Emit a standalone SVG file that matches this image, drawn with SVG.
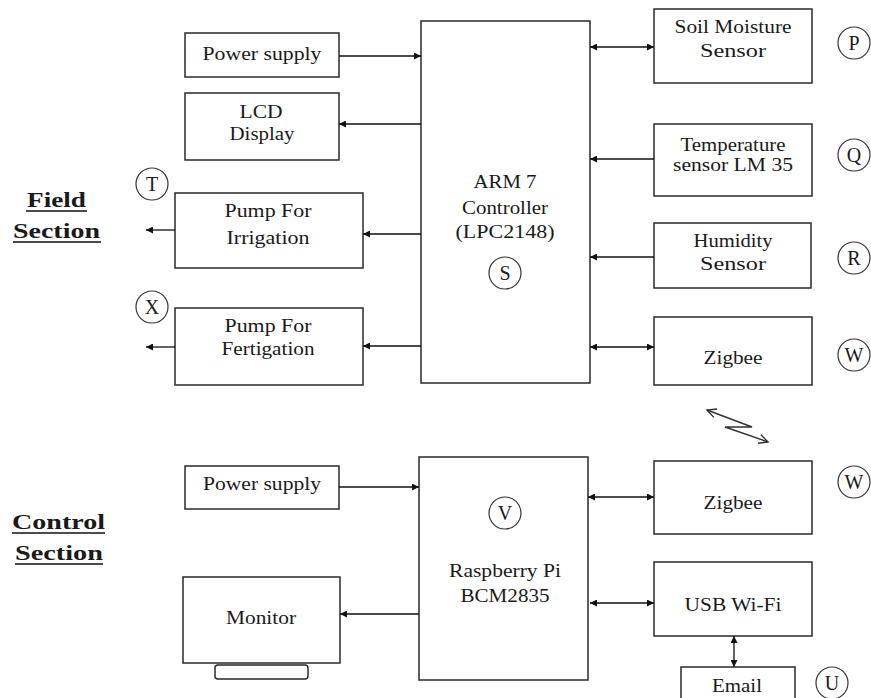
<svg xmlns="http://www.w3.org/2000/svg" width="871" height="698" viewBox="0 0 871 698">
<defs>
<marker id="ah" viewBox="0 0 10 10" refX="10" refY="5" markerWidth="9" markerHeight="7" markerUnits="userSpaceOnUse" orient="auto-start-reverse">
<path d="M0,0 L10,5 L0,10 z" fill="#111"/>
</marker>
<marker id="oa" viewBox="0 0 10 10" refX="9" refY="5" markerWidth="12" markerHeight="10" markerUnits="userSpaceOnUse" orient="auto-start-reverse">
<path d="M0,0.5 L9,5 L0,9.5" fill="none" stroke="#333" stroke-width="1.4"/>
</marker>
</defs>
<style>
.box{fill:#fff;stroke:#2a2a2a;stroke-width:1.5}
.t{font-family:"Liberation Serif","Times New Roman",serif;font-size:19px;fill:#1a1a1a;text-anchor:middle}
.h{font-family:"Liberation Serif","Times New Roman",serif;font-size:22px;font-weight:bold;fill:#1a1a1a}
.c{fill:#fff;stroke:#333;stroke-width:1.2}
.cl{font-family:"Liberation Serif","Times New Roman",serif;font-size:20px;fill:#1a1a1a;text-anchor:middle}
.ln{stroke:#111;stroke-width:1.3;fill:none}
.ul{stroke:#111;stroke-width:1.6}
</style>
<rect width="871" height="698" fill="#fff"/>

<g id="field-label">
<text class="h" x="27" y="207" textLength="59" lengthAdjust="spacingAndGlyphs">Field</text>
<line class="ul" x1="26" y1="211" x2="87" y2="211"/>
<text class="h" x="13" y="238" textLength="87" lengthAdjust="spacingAndGlyphs">Section</text>
<line class="ul" x1="13" y1="242" x2="101" y2="242"/>
</g>
<g id="control-label">
<text class="h" x="12" y="529" textLength="93" lengthAdjust="spacingAndGlyphs">Control</text>
<line class="ul" x1="12" y1="533" x2="105" y2="533"/>
<text class="h" x="15" y="560" textLength="88" lengthAdjust="spacingAndGlyphs">Section</text>
<line class="ul" x1="15" y1="564" x2="103" y2="564"/>
</g>

<g id="power1"><rect class="box" x="185" y="33" width="154" height="44"/>
<text class="t" x="262" y="60" textLength="119" lengthAdjust="spacingAndGlyphs">Power supply</text></g>
<g id="lcd"><rect class="box" x="185" y="93" width="154" height="67"/>
<text class="t" x="261" y="118" textLength="43" lengthAdjust="spacingAndGlyphs">LCD</text>
<text class="t" x="262" y="140" textLength="65" lengthAdjust="spacingAndGlyphs">Display</text></g>
<g id="pump-irr"><rect class="box" x="175" y="193" width="188" height="75"/>
<text class="t" x="268" y="217" textLength="87" lengthAdjust="spacingAndGlyphs">Pump For</text>
<text class="t" x="268" y="244" textLength="83" lengthAdjust="spacingAndGlyphs">Irrigation</text>
<circle class="c" cx="152" cy="184" r="16"/><text class="cl" x="152" y="191">T</text></g>
<g id="pump-fert"><rect class="box" x="175" y="308" width="188" height="77"/>
<text class="t" x="268" y="332" textLength="87" lengthAdjust="spacingAndGlyphs">Pump For</text>
<text class="t" x="268" y="355" textLength="93" lengthAdjust="spacingAndGlyphs">Fertigation</text>
<circle class="c" cx="152" cy="307" r="16"/><text class="cl" x="152" y="314">X</text></g>
<g id="arm"><rect class="box" x="421" y="21" width="169" height="362"/>
<text class="t" x="505" y="188" textLength="63" lengthAdjust="spacingAndGlyphs">ARM 7</text>
<text class="t" x="505" y="214" textLength="86" lengthAdjust="spacingAndGlyphs">Controller</text>
<text class="t" x="505" y="238" textLength="99" lengthAdjust="spacingAndGlyphs">(LPC2148)</text>
<circle class="c" cx="505" cy="273" r="16"/><text class="cl" x="505" y="280">S</text></g>
<g id="soil"><rect class="box" x="654" y="9" width="158" height="74"/>
<text class="t" x="733" y="33" textLength="117" lengthAdjust="spacingAndGlyphs">Soil Moisture</text>
<text class="t" x="733" y="57" textLength="66" lengthAdjust="spacingAndGlyphs">Sensor</text>
<circle class="c" cx="854" cy="43" r="16"/><text class="cl" x="854" y="50">P</text></g>
<g id="temp"><rect class="box" x="654" y="124" width="158" height="72"/>
<text class="t" x="733" y="151" textLength="105" lengthAdjust="spacingAndGlyphs">Temperature</text>
<text class="t" x="733" y="171" textLength="120" lengthAdjust="spacingAndGlyphs">sensor LM 35</text>
<circle class="c" cx="854" cy="155" r="16"/><text class="cl" x="854" y="162">Q</text></g>
<g id="humidity"><rect class="box" x="654" y="223" width="157" height="65"/>
<text class="t" x="733" y="247" textLength="79" lengthAdjust="spacingAndGlyphs">Humidity</text>
<text class="t" x="733" y="270" textLength="66" lengthAdjust="spacingAndGlyphs">Sensor</text>
<circle class="c" cx="854" cy="258" r="16"/><text class="cl" x="854" y="265">R</text></g>
<g id="zigbee1"><rect class="box" x="654" y="317" width="158" height="68"/>
<text class="t" x="733" y="364" textLength="59" lengthAdjust="spacingAndGlyphs">Zigbee</text>
<circle class="c" cx="854" cy="355" r="16"/><text class="cl" x="854" y="362">W</text></g>

<g id="power2"><rect class="box" x="185" y="466" width="154" height="43"/>
<text class="t" x="262" y="490" textLength="118" lengthAdjust="spacingAndGlyphs">Power supply</text></g>
<g id="monitor"><rect class="box" x="183" y="577" width="157" height="86"/>
<text class="t" x="261" y="624" textLength="70" lengthAdjust="spacingAndGlyphs">Monitor</text>
<rect class="box" x="215" y="665" width="93" height="14" rx="3"/></g>
<g id="rpi"><rect class="box" x="419" y="457" width="169" height="223"/>
<circle class="c" cx="505" cy="513" r="16"/><text class="cl" x="505" y="520">V</text>
<text class="t" x="505" y="577" textLength="112" lengthAdjust="spacingAndGlyphs">Raspberry Pi</text>
<text class="t" x="505" y="602" textLength="89" lengthAdjust="spacingAndGlyphs">BCM2835</text></g>
<g id="zigbee2"><rect class="box" x="654" y="461" width="158" height="73"/>
<text class="t" x="733" y="509" textLength="59" lengthAdjust="spacingAndGlyphs">Zigbee</text>
<circle class="c" cx="854" cy="482" r="16"/><text class="cl" x="854" y="489">W</text></g>
<g id="usbwifi"><rect class="box" x="654" y="562" width="158" height="74"/>
<text class="t" x="733" y="611" textLength="97" lengthAdjust="spacingAndGlyphs">USB Wi-Fi</text></g>
<g id="email"><rect class="box" x="681" y="667" width="114" height="40"/>
<text class="t" x="737" y="692" textLength="50" lengthAdjust="spacingAndGlyphs">Email</text>
<circle class="c" cx="832" cy="683" r="16"/><text class="cl" x="832" y="690">U</text></g>

<g id="connectors">
<line class="ln" x1="339" y1="56" x2="421" y2="56" marker-end="url(#ah)"/>
<line class="ln" x1="421" y1="124" x2="339" y2="124" marker-end="url(#ah)"/>
<line class="ln" x1="421" y1="234" x2="363" y2="234" marker-end="url(#ah)"/>
<line class="ln" x1="421" y1="346" x2="363" y2="346" marker-end="url(#ah)"/>
<line class="ln" x1="175" y1="230" x2="146" y2="230" marker-end="url(#ah)"/>
<line class="ln" x1="175" y1="347" x2="146" y2="347" marker-end="url(#ah)"/>
<line class="ln" x1="590" y1="47" x2="654" y2="47" marker-start="url(#ah)" marker-end="url(#ah)"/>
<line class="ln" x1="654" y1="159" x2="590" y2="159" marker-end="url(#ah)"/>
<line class="ln" x1="654" y1="257" x2="590" y2="257" marker-end="url(#ah)"/>
<line class="ln" x1="590" y1="347" x2="654" y2="347" marker-start="url(#ah)" marker-end="url(#ah)"/>
<polyline fill="none" stroke="#333" stroke-width="1.4" points="707,410 752,427 725,427 768,442" marker-start="url(#oa)" marker-end="url(#oa)"/>
<line class="ln" x1="339" y1="487" x2="419" y2="487" marker-end="url(#ah)"/>
<line class="ln" x1="419" y1="614" x2="340" y2="614" marker-end="url(#ah)"/>
<line class="ln" x1="588" y1="497" x2="654" y2="497" marker-start="url(#ah)" marker-end="url(#ah)"/>
<line class="ln" x1="590" y1="603" x2="654" y2="603" marker-start="url(#ah)" marker-end="url(#ah)"/>
<line class="ln" x1="734" y1="636" x2="734" y2="667" marker-start="url(#ah)" marker-end="url(#ah)"/>
</g>
</svg>
